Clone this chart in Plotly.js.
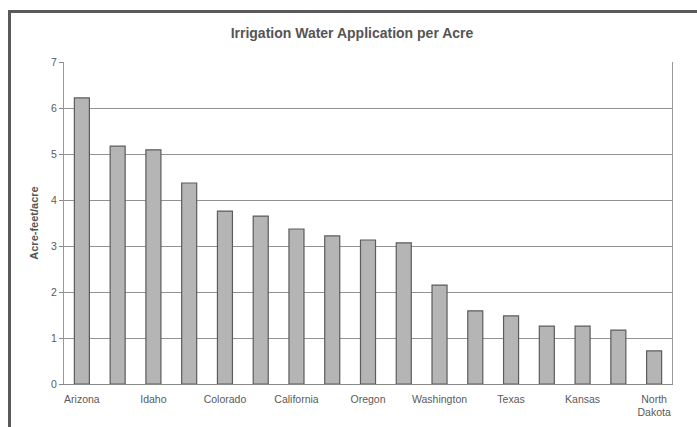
<!DOCTYPE html>
<html><head><meta charset="utf-8">
<script src="https://cdn.plot.ly/plotly-3.0.1.min.js"></script>
<style>
html,body{margin:0;padding:0;background:#fff;}
#wrap{position:relative;width:697px;height:427px;overflow:hidden;}
#chart{position:absolute;left:0;top:0;width:697px;height:427px;}
#frame{position:absolute;left:8px;top:10px;width:700px;height:430px;border-left:3px solid #5a5a5a;border-top:3px solid #5a5a5a;pointer-events:none;}
</style></head>
<body>
<div id="wrap"><div id="chart"></div><div id="frame"></div></div>
<script>
var states = ["Arizona","Nevada","Idaho","Utah","Colorado","New Mexico","California","Wyoming","Oregon","Montana","Washington","Oklahoma","Texas","Nebraska","Kansas","South Dakota","North Dakota"];
var values = [6.22,5.17,5.09,4.37,3.76,3.65,3.37,3.22,3.13,3.07,2.15,1.59,1.48,1.26,1.26,1.17,0.72];
var shownLabels = ["Arizona","","Idaho","","Colorado","","California","","Oregon","","Washington","","Texas","","Kansas","","North<br>Dakota"];
var yTicks = [0,1,2,3,4,5,6,7];

var trace = {
  type:'bar', x:states, y:values, width:0.42,
  marker:{color:'#b5b5b5', line:{color:'#5c5c5c', width:1.2}},
  hoverinfo:'x+y'
};
var layout = {
  width:697, height:427,
  margin:{l:64, r:25, t:62, b:43},
  paper_bgcolor:'#fff', plot_bgcolor:'#fff',
  showlegend:false,
  font:{family:'Liberation Sans, Arial, sans-serif', color:'#555'},
  title:{text:'<b>Irrigation Water Application per Acre</b>', x:0.505, xanchor:'center', y:0.923, yanchor:'middle',
         font:{size:14, color:'#555', family:'Liberation Sans, Arial, sans-serif'}},
  xaxis:{type:'category', tickvals:states, ticktext:shownLabels, tickangle:0, ticklabelstandoff:5,
         tickfont:{size:10.5, color:'#5a5a5a'}, showgrid:false, showline:true, linecolor:'#888', linewidth:1,
         mirror:false, ticks:'', zeroline:false},
  yaxis:{range:[0,7], tickvals:yTicks, ticks:'outside', ticklen:4, tickcolor:'#888',
         tickfont:{size:10.5, color:'#5a5a5a'}, showgrid:true, gridcolor:'#929292', gridwidth:1,
         showline:true, linecolor:'#999', linewidth:1, mirror:true, zeroline:false,
         title:{text:'<b>Acre-feet/acre</b>', standoff:10, font:{size:11, color:'#555'}}}
};
Plotly.newPlot('chart',[trace],layout,{displayModeBar:false, staticPlot:true});
</script>
</body></html>
